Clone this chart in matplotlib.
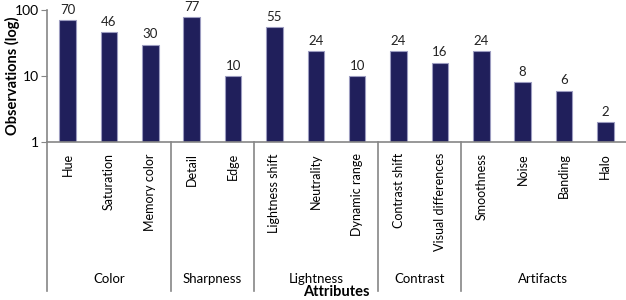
import matplotlib
matplotlib.use("Agg")
import matplotlib.pyplot as plt
import matplotlib.transforms as mtransforms

attributes = ["Hue", "Saturation", "Memory color", "Detail", "Edge",
              "Lightness shift", "Neutrality", "Dynamic range",
              "Contrast shift", "Visual differences",
              "Smoothness", "Noise", "Banding", "Halo"]
observations = [70, 46, 30, 77, 10, 55, 24, 10, 24, 16, 24, 8, 6, 2]
groups = ["Color", "Sharpness", "Lightness", "Contrast", "Artifacts"]
group_sizes = [3, 2, 3, 2, 4]

plt.rcParams['font.family'] = ['Lato', 'DejaVu Sans']

fig = plt.figure(figsize=(6.26, 3.0), dpi=100)
ax = fig.add_axes([47 / 626, 158 / 300, 579 / 626, 132 / 300])

x = list(range(len(attributes)))
ax.bar(x, observations, width=0.4, color="#201F5B", edgecolor="#9C9CC0", linewidth=0.8)
ax.set_yscale("log")
ax.set_ylim(1, 100)
ax.set_xlim(-0.5, len(attributes) - 0.5)

for xi, v in zip(x, observations):
    ax.annotate(str(v), (xi, v), xytext=(0, 3), textcoords="offset points",
                ha="center", va="bottom", fontsize=9.5, color="#222222")

ax.set_yticks([1, 10, 100])
ax.set_yticklabels(["1", "10", "100"])
ax.yaxis.set_minor_locator(matplotlib.ticker.NullLocator())
ax.tick_params(axis="y", labelsize=10, length=4, color="#868686", pad=2)
ax.set_xticks(x)
ax.set_xticklabels(attributes, rotation=90, fontsize=9, va="top")
ax.tick_params(axis="x", length=0, pad=8)

for side in ["top", "right"]:
    ax.spines[side].set_visible(False)
for side in ["left", "bottom"]:
    ax.spines[side].set_color("#868686")
    ax.spines[side].set_linewidth(1.2)

ax.set_ylabel("Observations (log)", fontsize=10.5, fontweight="bold")
ax.yaxis.set_label_coords(-27 / 579, 0.5)

# group separators and group names below the tick labels
trans = mtransforms.blended_transform_factory(ax.transData, ax.transAxes)
start = 0
bounds = [-0.5]
for name, n in zip(groups, group_sizes):
    center = start + (n - 1) / 2
    ax.text(center, -1.04, name, transform=trans, ha="center", va="center", fontsize=9.5)
    start += n
    bounds.append(start - 0.5)
for b in bounds[:-1]:
    ax.plot([b, b], [0, -1.13], transform=trans, color="#868686", lw=1.2, clip_on=False)

fig.text((47 + 626) / 2 / 626, 1 - 292 / 300, "Attributes", ha="center", va="center",
         fontsize=10.5, fontweight="bold")

fig.savefig("out.png", dpi=100)
